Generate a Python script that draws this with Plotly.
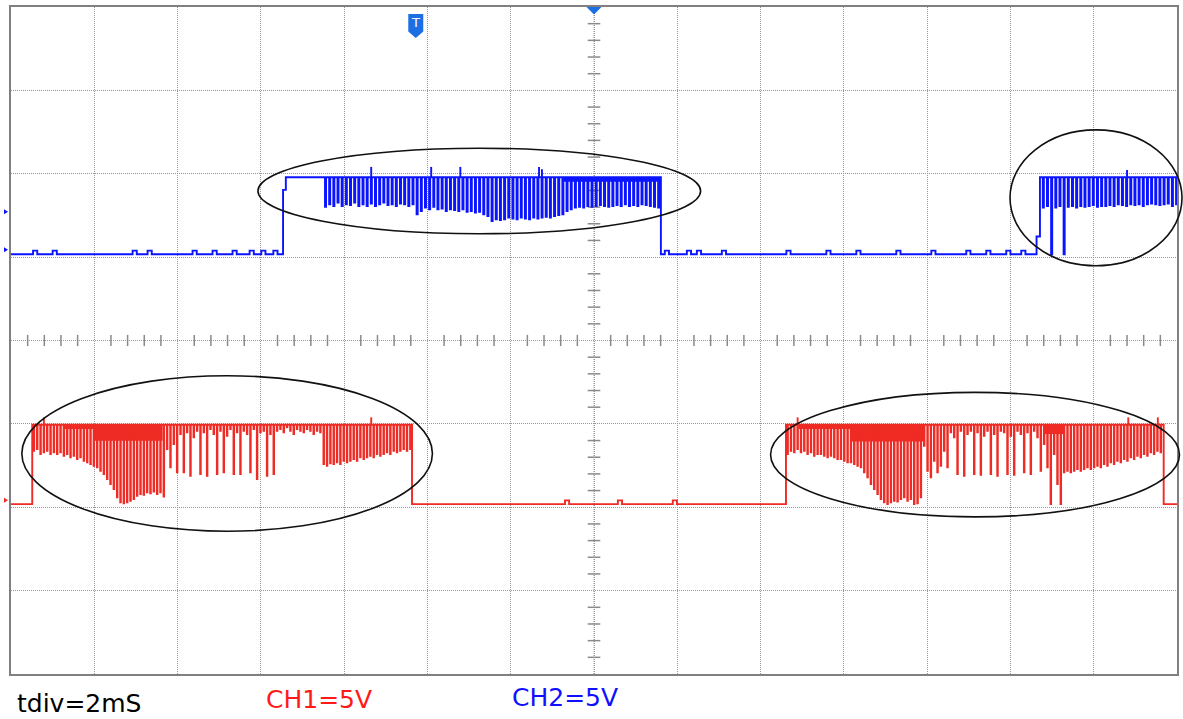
import plotly.graph_objects as go

# ---- screen geometry: 14 x 2 ms horizontally, 8 x 5 V vertically ----
T_MIN, T_MAX = -14.0, 14.0
V_MIN, V_MAX = -20.0, 20.0
T_DIV, V_DIV = 2.0, 5.0

CH1_COLOR = "#ee2b24"
CH2_COLOR = "#0b14ff"
MARK_COLOR = "#1c6fe3"
GRID_COLOR = "#969696"

# ---- channel 1 (red) ----
ch1_offset = -9.81          # on-screen ground position, V
ch1_high = 4.76             # logic high level, V
ch1_period = 0.08           # PWM carrier period, ms
ch1_dip_w = 0.013           # width of one low pulse, ms
ch1_burst_a = (-13.49, -4.37)
ch1_burst_b = (4.61, 13.68)
ch1_dips_a = [
    3.2, 3.3, 3.0, 3.1, 3.2, 3.0, 3.1, 3.0, 3.1,
    2.9, 3.0, 2.8, 2.9, 2.7, 2.8, 2.6, 2.5, 2.4,
    2.3, 2.2, 2.0, 1.8,
    1.5, 1.2, 0.9, 0.4,
    0.1, 0.05, 0.1, 0.2, 0.3,
    0.5, 0.6, 0.55, 0.7, 0.65, 0.75, 0.6, 0.7, 0.45,
    3.3, 2.2, 3.6, 1.9,
    4.2, 1.9, 4.3, 1.7, 4.0, 4.4, 1.8, 4.3, 1.7, 4.5,
    4.2, 1.8, 4.4, 1.9, 4.1, 4.5, 1.8, 4.3, 1.8, 4.4,
    4.2, 1.9, 4.5, 1.5, 4.3, 4.4, 1.7, 4.2, 1.8,
    4.4, 4.5, 4.3, 4.6, 4.4, 4.2, 4.5, 4.4, 4.3, 4.5, 4.4, 4.2, 4.4, 4.3,
    2.4, 2.3, 2.45, 2.4, 2.5, 2.4, 2.6, 2.5, 2.6, 2.7, 2.6, 2.8, 2.7, 2.8,
    2.9, 2.8, 3.0, 2.9, 3.0, 3.1, 3.0, 3.2, 3.1, 3.2, 3.3, 3.2, 3.3,
]
ch1_dips_b = [
    3.0, 3.2, 3.1, 3.3, 3.1, 3.2, 3.0, 3.1, 2.9, 3.0, 3.0, 2.9, 2.8, 2.9, 2.8, 2.7,
    2.7, 2.6, 2.5, 2.5, 2.4, 2.3, 2.2,
    1.9, 1.6, 1.2, 0.9,
    0.6, 0.3, 0.1, 0.0, 0.1, 0.2, 0.15, 0.3, 0.4, 0.2, 0.3, 0.0, 0.05, 0.4,
    3.5, 2.0, 1.6, 2.6, 1.9, 2.3,
    3.2, 2.2, 4.3, 4.0, 1.8, 4.4, 1.7, 4.2, 4.4, 1.8, 4.3, 1.75, 4.1, 4.4,
    1.8, 4.2, 1.7, 4.4, 4.3, 1.8, 4.1, 1.75, 4.4, 4.2, 1.9, 4.3, 1.8, 4.4,
    4.0, 2.0, 3.6, 2.2, 0.0,
    3.0, 1.2, 0.0,
    1.9, 2.0, 1.9, 2.0, 2.1, 2.0, 2.1, 2.2, 2.1, 2.2, 2.3, 2.2, 2.4, 2.3, 2.5,
    2.4, 2.6, 2.5, 2.7, 2.6, 2.8, 2.7, 2.9, 2.8, 3.0, 2.9, 3.1, 3.0, 3.2, 3.1,
]
# dense switching regions: (start ms, end ms, lowest level V)
ch1_bands = [(-12.73, -11.99, 4.5), (-11.99, -10.36, 3.8),
             (4.91, 6.16, 4.5), (6.16, 7.91, 3.75), (10.79, 11.27, 4.2)]
ch1_spike_t = [-13.21, -5.35, 4.89, 12.83, 13.54]
ch1_spike_v = [5.2, 5.2, 5.2, 5.2, 5.2]
ch1_glitch_t = [-0.647, 0.623, 1.942]

# ---- channel 2 (blue) ----
ch2_offset = 5.17
ch2_high = 4.62
ch2_period = 0.1
ch2_dip_w = 0.026
ch2_rise_a = (-7.467, -7.40, 3.86)     # edge time, settle time, intermediate level
ch2_burst_a = (-6.497, 1.606)
ch2_rise_b = (10.627, 10.709, 1.07)
ch2_burst_b = (10.74, 14.0)
ch2_dips_a = [
    2.85, 3.0, 2.9, 3.1, 2.9, 3.0, 2.95, 3.1, 2.9, 3.0, 2.9,
    3.05, 2.9, 3.0, 3.1, 2.95, 3.0, 2.9, 3.05, 3.0, 2.9, 3.0,
    2.4, 2.6,
    2.8, 2.7, 2.85, 2.7, 2.75, 2.6, 2.7, 2.65, 2.6, 2.7, 2.55, 2.6, 2.5, 2.55,
    2.4, 2.3, 2.0, 2.1, 2.05, 2.1, 2.2, 2.15, 2.1, 2.2,
    2.15, 2.1, 2.2, 2.15, 2.2, 2.25, 2.2, 2.3, 2.35, 2.4,
    2.6, 2.7, 2.8, 2.85, 2.8, 2.9, 2.85, 2.9, 2.95, 2.9, 2.85, 2.9,
    2.95, 2.9, 3.0, 2.9, 2.95, 2.9, 3.0, 2.95, 2.9, 2.85, 2.8,
]
ch2_dips_b = [
    2.8, 2.9, 0.0, 2.8, 2.9, 0.0,
    2.85, 2.9, 2.8, 2.9, 2.85, 2.9, 2.95, 2.85, 2.9, 2.9, 2.95, 2.9, 3.0, 2.95,
    2.9, 3.0, 2.95, 3.0, 2.9, 3.0, 3.05, 3.0, 2.95, 3.0, 3.05, 2.9, 3.0,
]
ch2_bands = [(-0.767, 1.606, 4.35)]
ch2_spike_t = [-5.35, -3.91, -3.21, -1.32, -1.25, 12.8]
ch2_spike_v = [5.24, 5.24, 5.24, 5.24, 5.1, 5.06]
ch2_glitch_t = [-13.42, -12.95, -11.03, -10.67, -9.59, -9.11, -8.63, -8.22,
                -7.94, -7.65, 1.75, 2.28, 2.52, 3.12, 4.67, 5.63, 6.35, 7.31,
                8.15, 8.99, 9.47, 9.95, 10.31]

GLITCH_H = 0.22
GLITCH_W = 0.1
TRACE_W = 1.9

# ---- markers and highlight outlines ----
trigger_t = -4.28
ground_marks = [(5.44, CH2_COLOR), (7.72, CH2_COLOR), (-9.58, CH1_COLOR)]
highlight_ellipses = [           # (t0, t1, v0, v1)
    (-8.07, 2.56, 6.40, 11.53),
    (9.99, 14.12, 4.48, 12.63),
    (-13.74, -3.88, -11.44, -2.11),
    (4.24, 14.06, -10.58, -3.11),
]
labels = [("tdiv=2mS", "black", 15, 703), ("CH1=5V", "#ff1a1a", 264, 699),
          ("CH2=5V", "#1010ff", 511, 697)]


def low_run(t0, t1, glitches):
    ts, vs = [t0], [0.0]
    for g in glitches:
        if t0 < g - GLITCH_W / 2 and g + GLITCH_W / 2 < t1:
            a, b = g - GLITCH_W / 2, g + GLITCH_W / 2
            ts += [a, a, b, b]
            vs += [0.0, GLITCH_H, GLITCH_H, 0.0]
    ts.append(t1)
    vs.append(0.0)
    return ts, vs


def burst(t0, t1, period, levels, high, w):
    ts, vs = [t0], [high]
    for k, lv in enumerate(levels):
        c = t0 + (k + 0.5) * period
        ts += [c - w / 2, c - w / 2, c + w / 2, c + w / 2]
        vs += [high, lv, lv, high]
    ts.append(t1)
    vs.append(high)
    return ts, vs


def join(*parts):
    ts, vs = [], []
    for t, v in parts:
        ts += t
        vs += v
    return ts, vs


ch1_t, ch1_v = join(
    low_run(T_MIN, ch1_burst_a[0], ch1_glitch_t),
    burst(ch1_burst_a[0], ch1_burst_a[1], ch1_period, ch1_dips_a, ch1_high, ch1_dip_w),
    low_run(ch1_burst_a[1], ch1_burst_b[0], ch1_glitch_t),
    burst(ch1_burst_b[0], ch1_burst_b[1], ch1_period, ch1_dips_b, ch1_high, ch1_dip_w),
    low_run(ch1_burst_b[1], T_MAX, []),
)

ch2_t, ch2_v = join(
    low_run(T_MIN, ch2_rise_a[0], ch2_glitch_t),
    ([ch2_rise_a[0], ch2_rise_a[1], ch2_rise_a[1]],
     [ch2_rise_a[2], ch2_rise_a[2], ch2_high]),
    burst(ch2_burst_a[0], ch2_burst_a[1], ch2_period, ch2_dips_a, ch2_high, ch2_dip_w),
    low_run(ch2_burst_a[1], ch2_rise_b[0], ch2_glitch_t),
    ([ch2_rise_b[0], ch2_rise_b[1], ch2_rise_b[1]],
     [ch2_rise_b[2], ch2_rise_b[2], ch2_high]),
    burst(ch2_burst_b[0], ch2_burst_b[1], ch2_period, ch2_dips_b, ch2_high, ch2_dip_w),
)

fig = go.Figure()

# dotted centre lines of the graticule
fig.add_trace(go.Scatter(x=[T_MIN, T_MAX, None, 0, 0], y=[0, 0, None, V_MIN, V_MAX],
                         mode="lines", line=dict(color=GRID_COLOR, width=1, dash="1px,1px"),
                         hoverinfo="skip", showlegend=False))

# graticule ticks along the centre lines (5 per division)
minor_t = [T_MIN + i * T_DIV / 5 for i in range(71)]
minor_t = [round(t, 3) for t in minor_t if abs(t / T_DIV - round(t / T_DIV)) > 1e-6]
minor_v = [V_MIN + i * V_DIV / 5 for i in range(41)]
minor_v = [round(v, 3) for v in minor_v if abs(v / V_DIV - round(v / V_DIV)) > 1e-6]
fig.add_trace(go.Scatter(x=minor_t, y=[0] * len(minor_t), mode="markers",
                         marker=dict(symbol="line-ns", size=8,
                                     line=dict(width=1.5, color="#8a8a8a")),
                         hoverinfo="skip", showlegend=False))
fig.add_trace(go.Scatter(x=[0] * len(minor_v), y=minor_v, mode="markers",
                         marker=dict(symbol="line-ew", size=9,
                                     line=dict(width=1.5, color="#8a8a8a")),
                         hoverinfo="skip", showlegend=False))


def add_channel(ts, vs, offset, high, bands, spike_t, spike_v, color):
    for t0, t1, lo in bands:
        fig.add_trace(go.Scatter(
            x=[t0, t1, t1, t0, t0],
            y=[high + offset, high + offset, lo + offset, lo + offset, high + offset],
            mode="lines", fill="toself", fillcolor=color, line=dict(width=0),
            hoverinfo="skip", showlegend=False))
    sx, sy = [], []
    for t, v in zip(spike_t, spike_v):
        sx += [t, t, None]
        sy += [high + offset, v + offset, None]
    fig.add_trace(go.Scatter(x=sx, y=sy, mode="lines",
                             line=dict(color=color, width=TRACE_W),
                             hoverinfo="skip", showlegend=False))
    fig.add_trace(go.Scatter(x=ts, y=[v + offset for v in vs], mode="lines",
                             line=dict(color=color, width=TRACE_W, simplify=False),
                             hoverinfo="skip", showlegend=False))


add_channel(ch2_t, ch2_v, ch2_offset, ch2_high, ch2_bands,
            ch2_spike_t, ch2_spike_v, CH2_COLOR)
add_channel(ch1_t, ch1_v, ch1_offset, ch1_high, ch1_bands,
            ch1_spike_t, ch1_spike_v, CH1_COLOR)


def px(t):
    return (t - T_MIN) / (T_MAX - T_MIN)


def py(v):
    return (v - V_MIN) / (V_MAX - V_MIN)


shapes = []
for t0, t1, v0, v1 in highlight_ellipses:
    shapes.append(dict(type="circle", xref="paper", yref="paper",
                       x0=px(t0), x1=px(t1), y0=py(v0), y1=py(v1),
                       line=dict(color="#111111", width=1.6), layer="above"))

# trigger flag and horizontal position marker on the top edge
shapes.append(dict(type="path", xref="x", yref="y", xsizemode="pixel",
                   ysizemode="pixel", xanchor=trigger_t, yanchor=V_MAX,
                   path="M -7.5,-7 L 7.5,-7 L 7.5,-24.5 L 0,-31 L -7.5,-24.5 Z",
                   fillcolor=MARK_COLOR, line=dict(width=0), layer="above"))
shapes.append(dict(type="path", xref="x", yref="y", xsizemode="pixel",
                   ysizemode="pixel", xanchor=0, yanchor=V_MAX,
                   path="M -7.5,0 L 7.5,0 L 0,-7.5 Z",
                   fillcolor=MARK_COLOR, line=dict(width=0), layer="above"))
# channel reference markers left of the screen
for v, c in ground_marks:
    shapes.append(dict(type="path", xref="paper", yref="y", xsizemode="pixel",
                       ysizemode="pixel", xanchor=0, yanchor=v,
                       path="M -7,2.5 L -3,0 L -7,-2.5 Z",
                       fillcolor=c, line=dict(width=0), layer="above"))

annotations = [dict(x=trigger_t, y=19.1, xref="x", yref="y", text="T",
                    showarrow=False,
                    font=dict(family="DejaVu Sans", size=13, color="white"))]

PLOT_L, PLOT_R, PLOT_T, PLOT_B = 11, 1179, 7, 674
for text, color, x_px, y_px in labels:
    annotations.append(dict(
        x=(x_px - PLOT_L) / (PLOT_R - PLOT_L),
        y=(PLOT_B - y_px) / (PLOT_B - PLOT_T),
        xref="paper", yref="paper", xanchor="left", yanchor="middle",
        text=text, showarrow=False,
        font=dict(family="DejaVu Sans", size=25, color=color)))

axis_common = dict(showgrid=True, gridcolor=GRID_COLOR, griddash="1px,1px",
                   gridwidth=1, showline=True, linecolor="#808080",
                   linewidth=2, mirror=True, showticklabels=False, ticks="",
                   zeroline=False, fixedrange=True)

fig.update_layout(
    width=1183, height=719, autosize=False,
    margin=dict(l=PLOT_L, r=1183 - PLOT_R, t=PLOT_T, b=719 - PLOT_B),
    paper_bgcolor="white", plot_bgcolor="white",
    xaxis=dict(range=[T_MIN, T_MAX], dtick=T_DIV, tick0=0, **axis_common),
    yaxis=dict(range=[V_MIN, V_MAX], dtick=V_DIV, tick0=0, **axis_common),
    shapes=shapes, annotations=annotations, showlegend=False,
)

fig.write_html("out.html")
